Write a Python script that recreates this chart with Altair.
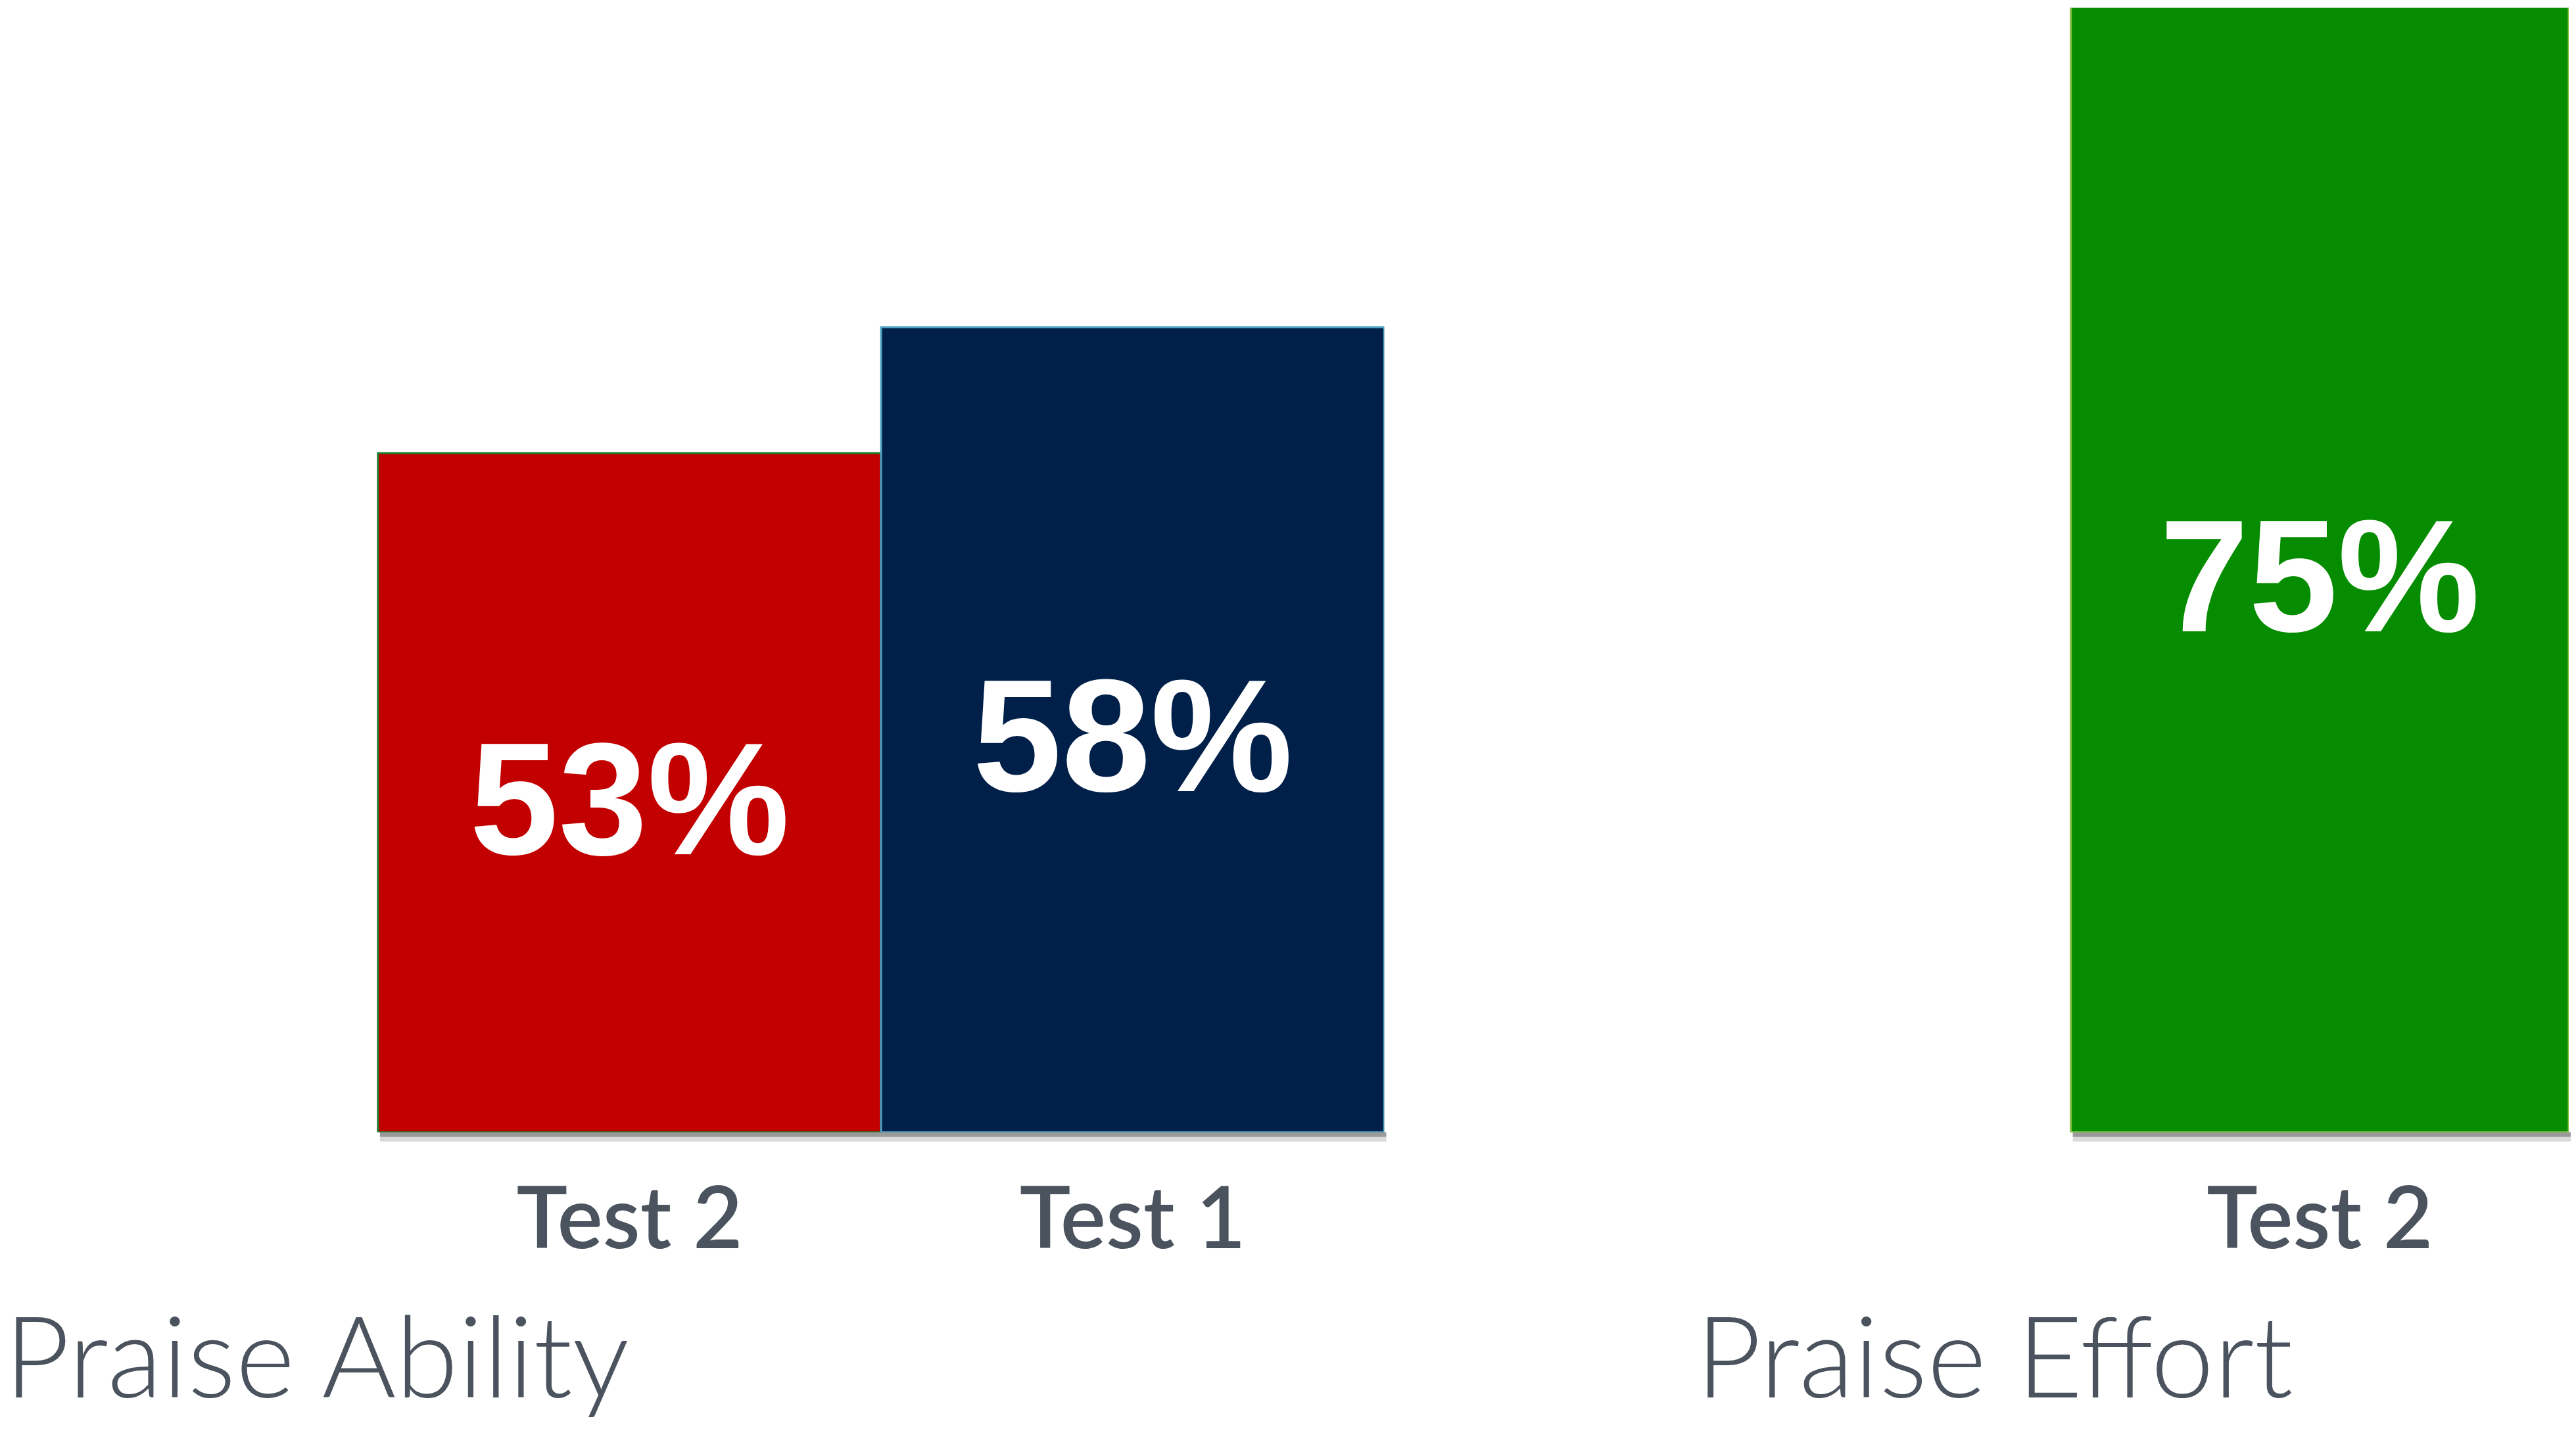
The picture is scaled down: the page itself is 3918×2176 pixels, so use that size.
import altair as alt
import pandas as pd

# ---- data ----
groups = ["Praise Ability", "Praise Ability", "Praise Effort"]
tests = ["Test 2", "Test 1", "Test 2"]
values = [53, 58, 75]
labels = ["53%", "58%", "75%"]
fills = ["#C20000", "#012049", "#068C00"]
strokes = ["#1E7B2C", "#4AA3C4", "#86C042"]

Y_MIN, Y_MAX = 26, 70.7
TEXT = "#4B535E"

df = pd.DataFrame({
    "group": groups,
    "test": tests,
    "value": values,
    "label": labels,
    "fill": fills,
    "stroke": strokes,
})
df["base"] = Y_MIN
df["label_pos"] = [(Y_MIN + min(v, Y_MAX)) / 2 for v in values]


def panel(group, step, pad_outer, title_x):
    d = df[df["group"] == group]
    x = alt.X(
        "test:N",
        sort=None,
        scale=alt.Scale(paddingInner=0, paddingOuter=pad_outer, align=1, round=False),
        axis=alt.Axis(
            title=group, labelAngle=0, ticks=False, domain=False, labelPadding=73,
            labelLimit=0,
            labelFont="Lato", labelFontSize=131, labelFontWeight=600, labelColor=TEXT,
            titleFont="Lato", titleFontSize=173, titleFontWeight=300, titleColor=TEXT,
            titleAnchor="start", titleAlign="left", titleBaseline="alphabetic",
            titleLimit=0, titleX=title_x, titleY=404,
        ),
    )
    yscale = alt.Scale(domain=[Y_MIN, Y_MAX], zero=False, nice=False)
    base = alt.Chart(d)
    shadow_soft = base.mark_bar(color="#d9d9d9", xOffset=3, y2Offset=14).encode(
        x=x, y=alt.Y("base:Q", scale=yscale, axis=None), y2="base:Q")
    shadow_dark = base.mark_bar(color="#9a9a9a", xOffset=3, y2Offset=7).encode(
        x=x, y=alt.Y("base:Q", scale=yscale, axis=None), y2="base:Q")
    bars = base.mark_bar(clip=True, strokeWidth=3).encode(
        x=x,
        y=alt.Y("value:Q", scale=yscale, axis=None),
        y2="base:Q",
        color=alt.Color("fill:N", scale=None),
        stroke=alt.Stroke("stroke:N", scale=None),
    )
    txt = base.mark_text(
        font="Liberation Sans", fontWeight="bold", fontSize=244, color="white",
        baseline="middle", dy=21,
    ).encode(
        x=x,
        y=alt.Y("label_pos:Q", scale=yscale, axis=None),
        text="label:N",
    )
    return alt.layer(shadow_soft, shadow_dark, bars, txt).properties(
        width=alt.Step(step), height=1716)


chart = (
    alt.hconcat(
        panel("Praise Ability", 768, 0.3704, -2),
        panel("Praise Effort", 760, 0.3743, -4),
        spacing=472,
    )
    .resolve_scale(x="independent")
    .configure_view(stroke=None)
    .properties(padding={"left": -2, "top": 0, "right": 0, "bottom": 8}, background="white")
)

chart.save("out.html", embed_options={"renderer": "svg", "actions": False})
